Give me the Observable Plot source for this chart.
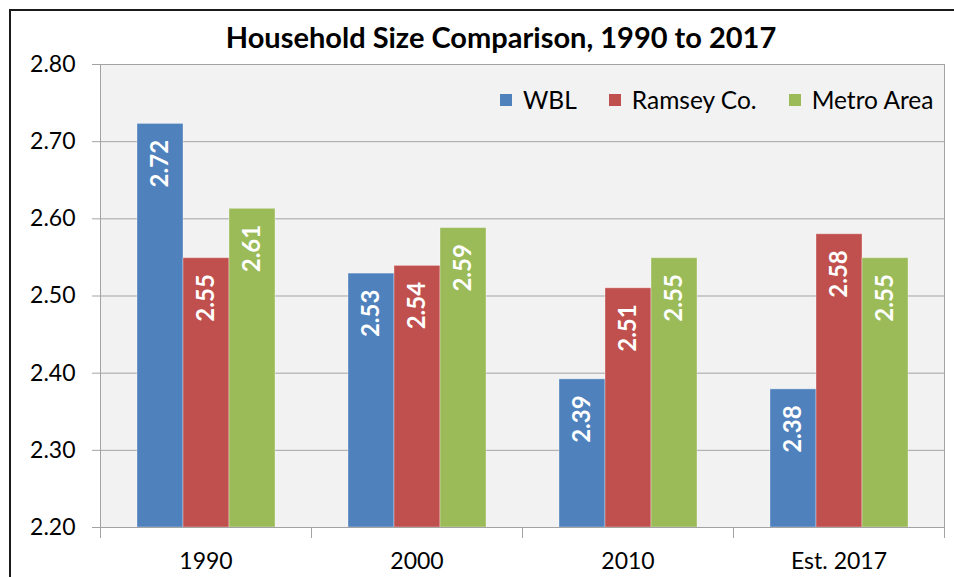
<!DOCTYPE html>
<html><head><meta charset="utf-8">
<script src="https://cdn.jsdelivr.net/npm/d3@7"></script>
<script src="https://cdn.jsdelivr.net/npm/@observablehq/plot@0.6"></script>
<style>
html,body{margin:0;padding:0;background:#fff;overflow:hidden;}
#wrap{position:relative;width:954px;height:577px;font-family:Lato,"Open Sans",sans-serif;overflow:hidden;}
#border{position:absolute;left:9px;top:9px;width:1000px;height:600px;border-top:2px solid #1a1a1a;border-left:2px solid #1a1a1a;pointer-events:none;}
#title{position:absolute;left:0;width:1002px;top:19px;text-align:center;font-weight:bold;font-size:29px;color:#000;}
#legend{position:absolute;left:500px;top:85px;width:460px;display:flex;align-items:center;font-size:24.5px;color:#000;white-space:nowrap;}
#legend .item{display:flex;align-items:center;margin-right:32px;flex:none;}
#legend .sw{width:12px;height:12px;margin-right:11px;flex:none;}
#chart{position:absolute;left:0;top:0;}
</style>
</head><body>
<div id="wrap">
  <div id="chart"></div>
  <div id="title"></div>
  <div id="legend"></div>
  <div id="border"></div>
</div>
<script>
const title = "Household Size Comparison, 1990 to 2017";
const years = ["1990", "2000", "2010", "Est. 2017"];
const seriesNames = ["WBL", "Ramsey Co.", "Metro Area"];
const wbl = [2.723, 2.529, 2.392, 2.379];
const ramsey = [2.549, 2.539, 2.510, 2.580];
const metro = [2.613, 2.588, 2.549, 2.549];
const yTicks = [2.2, 2.3, 2.4, 2.5, 2.6, 2.7, 2.8];
const colors = ["#4f81bd", "#c0504d", "#9bbb59"];

const seriesValues = [wbl, ramsey, metro];
const data = [];
years.forEach((yr, i) => seriesNames.forEach((s, j) => data.push({year: yr, series: s, value: seriesValues[j][i]})));

const gridColor = "#a3a3a3";
const plotHeight = 577 - 64 - 50;

const chart = Plot.plot({
  width: 954,
  height: 577,
  marginLeft: 100,
  marginRight: 10,
  marginTop: 64,
  marginBottom: 50,
  style: {fontFamily: "Lato, 'Open Sans', sans-serif", background: "transparent", color: "#000"},
  fx: {domain: years, padding: 0, label: null},
  x: {domain: seriesNames, paddingInner: 0, paddingOuter: 0.79, axis: null},
  y: {domain: [2.2, 2.8], label: null},
  color: {domain: seriesNames, range: colors},
  marks: [
    Plot.frame({facet: "super", fill: "#f2f2f2", stroke: null}),
    Plot.gridY(yTicks, {stroke: gridColor, strokeOpacity: 1}),
    Plot.barY(data, {fx: "year", x: "series", y1: 2.2, y2: "value", fill: "series", stroke: "#ffffff", strokeOpacity: 0.35, strokeWidth: 1}),
    Plot.text(data, {fx: "year", x: "series", y: "value", text: d => d.value.toFixed(2), rotate: -90, textAnchor: "end", dy: 16, fill: "#ffffff", fontWeight: "bold", fontSize: 24}),
    Plot.ruleY([2.2], {stroke: gridColor}),
    Plot.frame({facet: "super", anchor: "left", stroke: gridColor, insetBottom: -10}),
    Plot.frame({facet: "super", anchor: "right", stroke: gridColor, insetBottom: -10}),
    Plot.frame({anchor: "left", stroke: gridColor, insetTop: plotHeight, insetBottom: -10}),
    Plot.axisY({ticks: yTicks, tickFormat: d => d.toFixed(2), tickSize: 8, tickPadding: 17, fontSize: 23, stroke: gridColor, fill: "#000", label: null}),
    Plot.axisFx({anchor: "bottom", tickSize: 0, tickPadding: 25, fontSize: 23, fill: "#000", label: null})
  ]
});
document.getElementById("chart").appendChild(chart);
document.getElementById("title").textContent = title;
const legend = document.getElementById("legend");
seriesNames.forEach((s, j) => {
  const item = document.createElement("div");
  item.className = "item";
  const sw = document.createElement("span");
  sw.className = "sw";
  sw.style.background = colors[j];
  const t = document.createElement("span");
  t.textContent = s;
  item.appendChild(sw); item.appendChild(t);
  legend.appendChild(item);
});
</script>
</body></html>
